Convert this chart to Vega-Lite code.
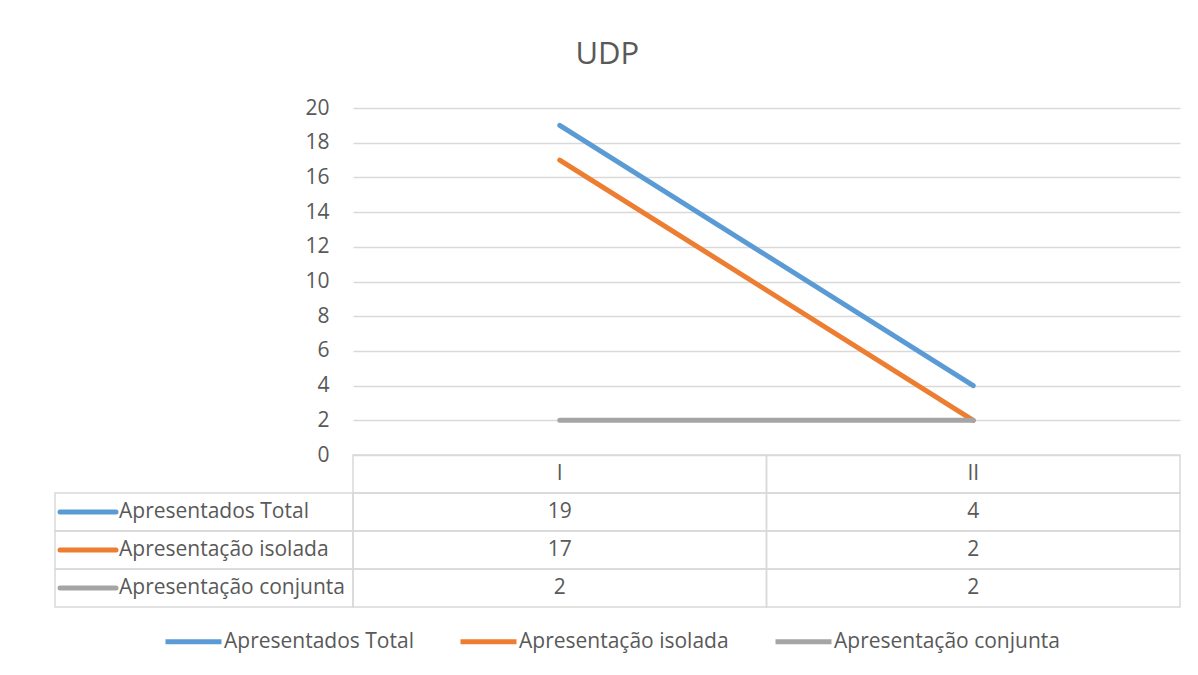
{
  "$schema": "https://vega.github.io/schema/vega-lite/v6.json",
  "background": "white",
  "autosize": {"type": "pad"},
  "padding": {"left": 50, "top": 39, "right": 10, "bottom": 10},
  "title": {"text": "UDP", "fontSize": 31, "font": "Open Sans", "fontWeight": "normal", "color": "#595959", "anchor": "middle", "offset": 26, "dx": -8},
  "datasets": {
    "dados": [
      {"serie": "Apresentados Total", "periodo": "I", "valor": 19},
      {"serie": "Apresentados Total", "periodo": "II", "valor": 4},
      {"serie": "Apresentação isolada", "periodo": "I", "valor": 17},
      {"serie": "Apresentação isolada", "periodo": "II", "valor": 2},
      {"serie": "Apresentação conjunta", "periodo": "I", "valor": 2},
      {"serie": "Apresentação conjunta", "periodo": "II", "valor": 2}
    ]
  },
  "columns": 2,
  "spacing": 0,
  "bounds": "flush",
  "resolve": {"scale": {"color": "shared", "x": "independent", "y": "independent"}},
  "concat": [
    {
      "width": 298, "height": 347,
      "data": {"values": [{}]},
      "mark": {"type": "point", "opacity": 0}
    },
    {
      "width": 827, "height": 347,
      "data": {"name": "dados"},
      "mark": {"type": "line", "strokeWidth": 5, "strokeCap": "round", "strokeJoin": "round"},
      "encoding": {
        "x": {"field": "periodo", "type": "ordinal", "scale": {"type": "point", "domain": ["I", "II"], "padding": 0.5}, "axis": null},
        "y": {"field": "valor", "type": "quantitative", "scale": {"domain": [0, 20], "nice": false},
          "axis": {"values": [0, 2, 4, 6, 8, 10, 12, 14, 16, 18, 20], "domain": false, "ticks": false, "tickSize": 0, "labelPadding": 24, "labelFontSize": 21, "labelColor": "#595959", "labelFont": "Open Sans", "grid": true, "gridColor": "#d9d9d9", "gridWidth": 1.3, "title": null}},
        "color": {"field": "serie", "type": "nominal",
          "scale": {"domain": ["Apresentados Total", "Apresentação isolada", "Apresentação conjunta"], "range": ["#5b9bd5", "#ed7d31", "#a5a5a5"]},
          "legend": {"orient": "none", "legendX": 108, "legendY": 503, "direction": "horizontal", "title": null, "symbolType": "stroke", "symbolSize": 3136, "symbolStrokeWidth": 5, "labelFontSize": 21, "labelFont": "Open Sans", "labelColor": "#595959", "labelLimit": 400, "labelOffset": 0, "columnPadding": 36}}
      }
    },
    {
      "width": 298, "height": 152,
      "data": {"name": "dados"},
      "transform": [{"filter": "datum.periodo == 'I'"}],
      "layer": [
        {
          "mark": {"type": "rect", "filled": false, "stroke": "#d9d9d9", "strokeWidth": 1.5},
          "encoding": {
            "y": {"field": "serie", "type": "nominal", "scale": {"type": "band", "domain": ["cab", "Apresentados Total", "Apresentação isolada", "Apresentação conjunta"], "paddingInner": 0, "paddingOuter": 0}, "axis": null}
          }
        },
        {
          "mark": {"type": "point", "shape": "stroke", "size": 3136, "strokeWidth": 5, "strokeCap": "round", "filled": false, "opacity": 1, "x": 33},
          "encoding": {
            "y": {"field": "serie", "type": "nominal", "scale": {"type": "band", "domain": ["cab", "Apresentados Total", "Apresentação isolada", "Apresentação conjunta"], "paddingInner": 0, "paddingOuter": 0}, "axis": null},
            "color": {"field": "serie", "type": "nominal",
              "scale": {"domain": ["Apresentados Total", "Apresentação isolada", "Apresentação conjunta"], "range": ["#5b9bd5", "#ed7d31", "#a5a5a5"]},
              "legend": {"orient": "none", "legendX": 108, "legendY": 503, "direction": "horizontal", "title": null, "symbolType": "stroke", "symbolSize": 3136, "symbolStrokeWidth": 5, "labelFontSize": 21, "labelFont": "Open Sans", "labelColor": "#595959", "labelLimit": 400, "labelOffset": 0, "columnPadding": 36}}
          }
        },
        {
          "mark": {"type": "text", "align": "left", "baseline": "middle", "x": 64, "fontSize": 21, "font": "Open Sans", "color": "#595959"},
          "encoding": {
            "y": {"field": "serie", "type": "nominal", "scale": {"type": "band", "domain": ["cab", "Apresentados Total", "Apresentação isolada", "Apresentação conjunta"], "paddingInner": 0, "paddingOuter": 0}, "axis": null},
            "text": {"field": "serie"}
          }
        }
      ]
    },
    {
      "width": 827, "height": 152,
      "layer": [
        {
          "data": {"name": "dados"},
          "mark": {"type": "rect", "filled": false, "stroke": "#d9d9d9", "strokeWidth": 1.5},
          "encoding": {
            "x": {"field": "periodo", "type": "nominal", "scale": {"type": "band", "domain": ["I", "II"], "paddingInner": 0, "paddingOuter": 0}, "axis": null},
            "y": {"field": "serie", "type": "nominal", "scale": {"type": "band", "domain": ["cab", "Apresentados Total", "Apresentação isolada", "Apresentação conjunta"], "paddingInner": 0, "paddingOuter": 0}, "axis": null}
          }
        },
        {
          "data": {"name": "dados"},
          "mark": {"type": "text", "align": "center", "baseline": "middle", "fontSize": 21, "font": "Open Sans", "color": "#595959"},
          "encoding": {
            "x": {"field": "periodo", "type": "nominal", "scale": {"type": "band", "domain": ["I", "II"], "paddingInner": 0, "paddingOuter": 0}, "axis": null},
            "y": {"field": "serie", "type": "nominal", "scale": {"type": "band", "domain": ["cab", "Apresentados Total", "Apresentação isolada", "Apresentação conjunta"], "paddingInner": 0, "paddingOuter": 0}, "axis": null},
            "text": {"field": "valor"}
          }
        },
        {
          "data": {"name": "dados"},
          "transform": [{"aggregate": [{"op": "count", "as": "n"}], "groupby": ["periodo"]}],
          "mark": {"type": "rect", "filled": false, "stroke": "#d9d9d9", "strokeWidth": 1.5},
          "encoding": {
            "x": {"field": "periodo", "type": "nominal", "scale": {"type": "band", "domain": ["I", "II"], "paddingInner": 0, "paddingOuter": 0}, "axis": null},
            "y": {"datum": "cab", "type": "nominal", "scale": {"type": "band", "domain": ["cab", "Apresentados Total", "Apresentação isolada", "Apresentação conjunta"], "paddingInner": 0, "paddingOuter": 0}, "axis": null}
          }
        },
        {
          "data": {"name": "dados"},
          "transform": [{"aggregate": [{"op": "count", "as": "n"}], "groupby": ["periodo"]}],
          "mark": {"type": "text", "align": "center", "baseline": "middle", "fontSize": 21, "font": "Open Sans", "color": "#595959"},
          "encoding": {
            "x": {"field": "periodo", "type": "nominal", "scale": {"type": "band", "domain": ["I", "II"], "paddingInner": 0, "paddingOuter": 0}, "axis": null},
            "y": {"datum": "cab", "type": "nominal", "scale": {"type": "band", "domain": ["cab", "Apresentados Total", "Apresentação isolada", "Apresentação conjunta"], "paddingInner": 0, "paddingOuter": 0}, "axis": null},
            "text": {"field": "periodo"}
          }
        }
      ]
    }
  ],
  "config": {"view": {"stroke": null}, "font": "Open Sans"}
}
